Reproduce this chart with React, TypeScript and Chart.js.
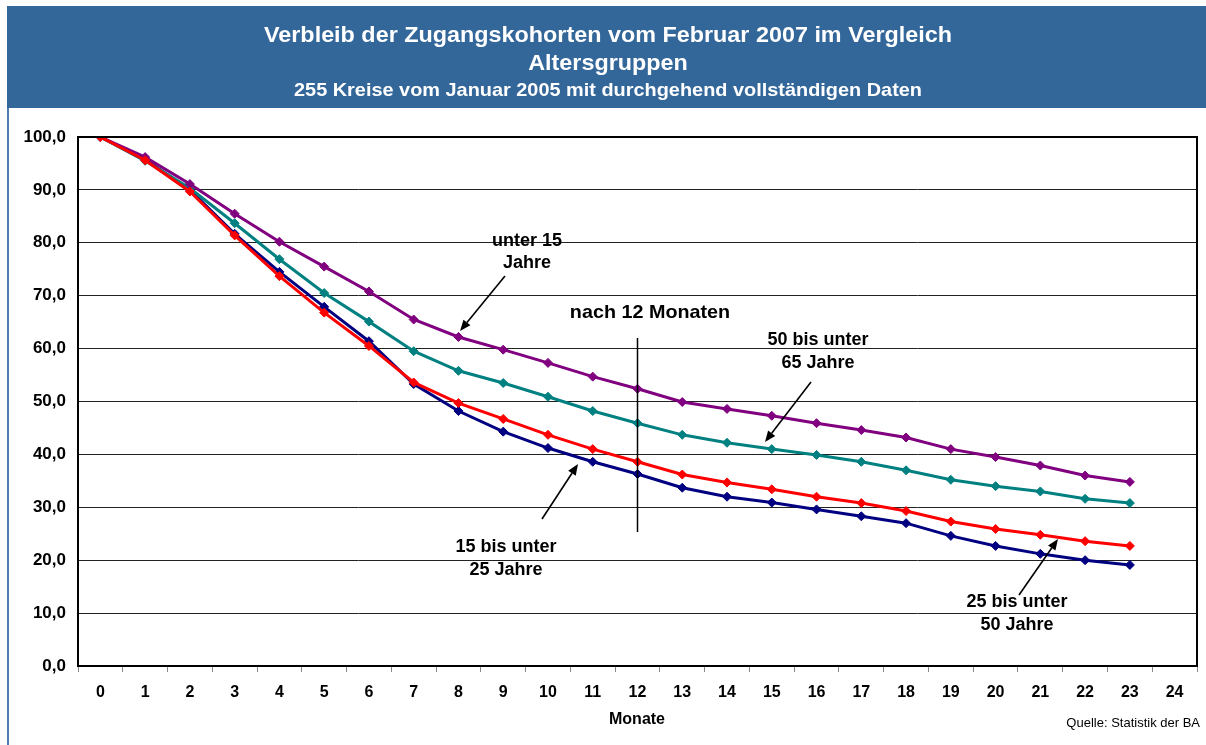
import React, { useEffect, useRef } from "react";
import { Chart, registerables } from "chart.js";

Chart.register(...registerables);

const months: string[] = Array.from({ length: 25 }, (_, i) => String(i));

const unter15: number[] = [100, 96.2, 91.1, 85.5, 80.2, 75.5, 70.8, 65.5, 62.2, 59.8, 57.3, 54.7, 52.4, 49.9, 48.6, 47.3, 45.9, 44.6, 43.2, 41.0, 39.5, 37.9, 36.0, 34.8];
const bis25: number[] = [100, 95.7, 90.0, 81.7, 74.5, 67.9, 61.4, 53.3, 48.2, 44.3, 41.2, 38.6, 36.3, 33.7, 32.0, 30.9, 29.6, 28.3, 27.0, 24.6, 22.7, 21.2, 20.0, 19.1];
const bis50: number[] = [100, 95.6, 89.7, 81.4, 73.7, 66.8, 60.5, 53.6, 49.7, 46.7, 43.7, 41.0, 38.6, 36.2, 34.7, 33.4, 32.0, 30.8, 29.3, 27.3, 25.9, 24.8, 23.6, 22.7];
const bis65: number[] = [100, 95.5, 90.3, 83.7, 76.9, 70.5, 65.1, 59.5, 55.8, 53.5, 50.9, 48.2, 45.9, 43.7, 42.2, 41.0, 39.9, 38.6, 37.0, 35.2, 34.0, 33.0, 31.6, 30.8];

const titleLine1 = "Verbleib der Zugangskohorten vom Februar 2007 im Vergleich";
const titleLine2 = "Altersgruppen";
const subtitle = "255 Kreise vom Januar 2005 mit durchgehend vollständigen Daten";
const xTitle = "Monate";
const source = "Quelle: Statistik der BA";

const FONT = "'Liberation Sans', Arial, Helvetica, sans-serif";

function fitText(ctx: CanvasRenderingContext2D, text: string, cx: number, y: number, font: string, sx: number) {
  ctx.save();
  ctx.font = font;
  ctx.textAlign = "center";
  ctx.textBaseline = "alphabetic";
  ctx.translate(cx, y);
  ctx.scale(sx, 1);
  ctx.fillText(text, 0, 0);
  ctx.restore();
}

function arrow(ctx: CanvasRenderingContext2D, x1: number, y1: number, x2: number, y2: number) {
  const ang = Math.atan2(y2 - y1, x2 - x1);
  const len = 11;
  const hw = 4.5;
  const bx = x2 - len * Math.cos(ang);
  const by = y2 - len * Math.sin(ang);
  ctx.save();
  ctx.strokeStyle = "#000";
  ctx.fillStyle = "#000";
  ctx.lineWidth = 1.6;
  ctx.beginPath();
  ctx.moveTo(x1, y1);
  ctx.lineTo(bx, by);
  ctx.stroke();
  ctx.beginPath();
  ctx.moveTo(x2, y2);
  ctx.lineTo(bx + hw * Math.sin(ang), by - hw * Math.cos(ang));
  ctx.lineTo(bx - hw * Math.sin(ang), by + hw * Math.cos(ang));
  ctx.closePath();
  ctx.fill();
  ctx.restore();
}

const decor = {
  id: "decor",
  beforeDraw(chart: any) {
    const ctx: CanvasRenderingContext2D = chart.ctx;
    ctx.save();
    ctx.fillStyle = "#ffffff";
    ctx.fillRect(0, 0, chart.width, chart.height);
    ctx.fillStyle = "#336699";
    ctx.fillRect(7, 6, chart.width - 7, 102);
    ctx.fillStyle = "#4f7db3";
    ctx.fillRect(7, 108, 2, chart.height - 108);
    ctx.fillStyle = "#ffffff";
    ctx.font = `bold 22px ${FONT}`;
    const w1 = ctx.measureText(titleLine1).width;
    const s1 = 688 / w1;
    fitText(ctx, titleLine1, 608, 42, `bold 22px ${FONT}`, s1);
    fitText(ctx, titleLine2, 608, 70, `bold 22px ${FONT}`, s1);
    ctx.font = `bold 19px ${FONT}`;
    const w2 = ctx.measureText(subtitle).width;
    fitText(ctx, subtitle, 608, 96, `bold 19px ${FONT}`, 628 / w2);
    ctx.restore();
  },
  afterDraw(chart: any) {
    const ctx: CanvasRenderingContext2D = chart.ctx;
    const a = chart.chartArea;
    ctx.save();
    ctx.strokeStyle = "#000";
    ctx.lineWidth = 2;
    ctx.beginPath();
    ctx.moveTo(a.left, a.top);
    ctx.lineTo(a.right, a.top);
    ctx.lineTo(a.right, a.bottom);
    ctx.stroke();

    // vertical marker after 12 months
    const xs = chart.scales.x;
    const x12 = xs.getPixelForValue(12);
    ctx.lineWidth = 1.5;
    ctx.beginPath();
    ctx.moveTo(x12, 338);
    ctx.lineTo(x12, 532);
    ctx.stroke();

    ctx.fillStyle = "#000";
    const f18 = `bold 18px ${FONT}`;
    fitText(ctx, "unter 15", 527, 246, f18, 1);
    fitText(ctx, "Jahre", 527, 268, f18, 1);
    fitText(ctx, "nach 12 Monaten", 650, 318, `bold 19px ${FONT}`, 1.04);
    fitText(ctx, "50 bis unter", 818, 345, f18, 1);
    fitText(ctx, "65 Jahre", 818, 368, f18, 1);
    fitText(ctx, "15 bis unter", 506, 552, f18, 1);
    fitText(ctx, "25 Jahre", 506, 575, f18, 1);
    fitText(ctx, "25 bis unter", 1017, 607, f18, 1);
    fitText(ctx, "50 Jahre", 1017, 630, f18, 1);

    arrow(ctx, 505, 276, 460, 331);
    arrow(ctx, 811, 382, 765, 442);
    arrow(ctx, 542, 519, 578, 464);
    arrow(ctx, 1019, 595, 1058, 539);

    fitText(ctx, xTitle, 637, 724, `bold 16px ${FONT}`, 1);
    ctx.font = `13px ${FONT}`;
    ctx.textAlign = "right";
    ctx.textBaseline = "alphabetic";
    ctx.fillText(source, 1200, 727);
    ctx.restore();
  },
};

function mk(label: string, data: number[], color: string) {
  return {
    label,
    data,
    borderColor: color,
    backgroundColor: color,
    borderWidth: 3,
    pointStyle: "rectRot",
    pointRadius: 4.5,
    pointBorderWidth: 1,
    pointBackgroundColor: color,
    pointBorderColor: color,
    tension: 0,
    fill: false,
  };
}

export default function App() {
  const ref = useRef<HTMLCanvasElement | null>(null);
  useEffect(() => {
    if (!ref.current) return;
    const chart = new Chart(ref.current, {
      type: "line",
      data: {
        labels: months,
        datasets: [
          mk("25 bis unter 50 Jahre", bis50, "#ff0000"),
          mk("unter 15 Jahre", unter15, "#800080"),
          mk("50 bis unter 65 Jahre", bis65, "#008080"),
          mk("15 bis unter 25 Jahre", bis25, "#000080"),
        ],
      },
      options: {
        animation: false,
        responsive: false,
        devicePixelRatio: 1,
        layout: { padding: { left: 0, right: 9, top: 137, bottom: 0 } },
        plugins: {
          legend: { display: false },
          tooltip: { enabled: false },
          title: { display: false },
        },
        scales: {
          x: {
            type: "category",
            offset: true,
            afterFit: (s: any) => { s.height = 79; },
            grid: { drawOnChartArea: false, drawTicks: true, tickLength: 6, color: "#888", offset: true },
            border: { display: true, color: "#000", width: 2 },
            ticks: { color: "#000", font: { family: FONT, size: 16, weight: "bold" }, padding: 11, maxRotation: 0, autoSkip: false },
          },
          y: {
            min: 0,
            max: 100,
            afterFit: (s: any) => { s.width = 78; },
            ticks: {
              stepSize: 10,
              color: "#000",
              padding: 12,
              font: { family: FONT, size: 17, weight: "bold" },
              callback: (v: any) => Number(v).toFixed(1).replace(".", ","),
            },
            grid: { color: "#222", lineWidth: 1, drawTicks: false },
            border: { display: true, color: "#000", width: 2 },
          },
        },
      } as any,
      plugins: [decor],
    });
    return () => chart.destroy();
  }, []);
  return (
    <div style={{ position: "absolute", left: 0, top: 0, width: 1206, height: 745 }}>
      <canvas ref={ref} width={1206} height={745} style={{ width: 1206, height: 745, display: "block" }} />
    </div>
  );
}
